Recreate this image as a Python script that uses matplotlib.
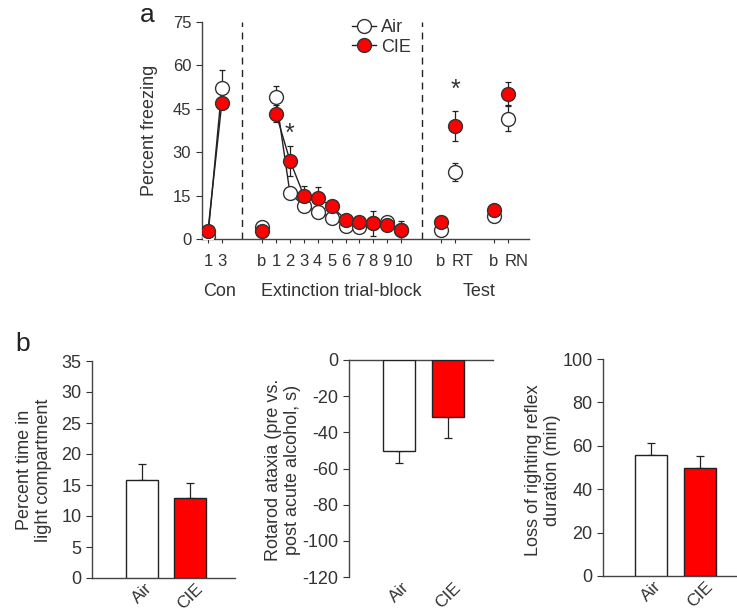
import matplotlib

matplotlib.use("Agg")
import matplotlib.pyplot as plt
from matplotlib.lines import Line2D
from matplotlib.transforms import ScaledTranslation

plt.rcParams["font.family"] = ["Liberation Sans", "DejaVu Sans"]
plt.rcParams["axes.unicode_minus"] = False

W, H = 737, 614

# ---- panel a: percent freezing ----
tick_labels = ["1", "3", "b", "1", "2", "3", "4", "5", "6", "7", "8", "9", "10",
               "b", "RT", "b", "RN"]
con_x = [0.0, 1.0]
ext_x = [3.9, 4.9, 5.9, 6.9, 7.9, 8.9, 9.9, 10.9, 11.9, 12.9, 13.9]
test_x = [16.8, 17.8, 20.6, 21.6]

air_con = [0.9, 52.3]
air_con_err = [0.5, 6.2]
cie_con = [2.9, 47.1]
cie_con_err = [1.0, 2.0]

air_ext = [4.0, 49.0, 15.8, 11.5, 9.5, 7.3, 4.6, 4.0, 5.4, 5.8, 3.1]
air_ext_err = [1.0, 4.0, 2.0, 1.5, 1.5, 1.5, 1.0, 1.0, 4.4, 1.5, 1.0]
cie_ext = [2.9, 43.3, 27.1, 15.0, 14.2, 11.3, 6.7, 6.0, 5.4, 4.8, 3.1]
cie_ext_err = [1.0, 3.0, 5.2, 3.2, 3.7, 1.5, 1.0, 1.0, 1.5, 1.0, 3.2]

air_test = [3.1, 23.1, 8.1, 41.5]
air_test_err = [1.0, 3.2, 1.0, 4.3]
cie_test = [5.8, 39.0, 10.0, 50.2]
cie_test_err = [1.0, 5.1, 1.0, 4.0]

# ---- panel b: bar charts ----
groups = ["Air", "CIE"]
light_time = [15.8, 12.9]
light_time_err = [2.6, 2.5]
rotarod = [-50.1, -31.3]
rotarod_err = [7.0, 12.0]
lorr = [55.8, 49.7]
lorr_err = [5.7, 5.4]

RED = "#ff0000"
EDGE = "#333333"
AXC = "#444444"
TXT = "#333333"


def px_rect(left, top, right, bottom):
    return [left / W, 1 - bottom / H, (right - left) / W, (bottom - top) / H]


def style_axes(ax, size):
    for s in ax.spines.values():
        s.set_color(AXC)
        s.set_linewidth(1.0)
    ax.tick_params(colors=TXT, length=4, width=0.8, labelsize=size)


fig = plt.figure(figsize=(W / 100, H / 100), dpi=100)

ax = fig.add_axes(px_rect(201.7, 22, 529, 239))
style_axes(ax, 12)
ax.spines["top"].set_visible(False)
ax.spines["right"].set_visible(False)
ax.set_xlim(-0.45, 23.1)
ax.set_ylim(0, 75)
ax.set_yticks([0, 15, 30, 45, 60, 75])
ax.set_xticks(con_x + ext_x + test_x)
ax.set_xticklabels(tick_labels)
ax.tick_params(axis="x", length=3, pad=8)
ax.set_ylabel("Percent freezing", fontsize=13, color=TXT, labelpad=11)

# nudge the wider labels so neighbours do not collide
for lab in ax.get_xticklabels():
    shift = {"RT": 7, "RN": 8, "10": 3}.get(lab.get_text(), 0)
    if lab.get_text() == "b":
        shift = -1
    if shift:
        lab.set_transform(lab.get_transform() + ScaledTranslation(shift / 100, 0, fig.dpi_scale_trans))

for xv in (2.45, 15.4):
    ax.axvline(xv, color="#222222", lw=1.0, ls=(0, (5, 4)), zorder=1)

mk = dict(marker="o", ms=10, mew=1.0, mec=EDGE, ls="none", zorder=4)
eb = dict(fmt="none", ecolor="#222222", elinewidth=0.9, capsize=2.5, capthick=0.9, zorder=2)

# connecting lines
ax.plot(con_x, air_con, color="#222222", lw=1.0, zorder=3)
ax.plot(con_x, cie_con, color="#222222", lw=1.0, zorder=3)
ax.plot(ext_x[1:], air_ext[1:], color="#222222", lw=1.0, zorder=3)
ax.plot(ext_x[1:], cie_ext[1:], color="#222222", lw=1.0, zorder=3)

for xs, ys, es in ((con_x, air_con, air_con_err), (ext_x, air_ext, air_ext_err),
                   (test_x, air_test, air_test_err)):
    ax.errorbar(xs, ys, yerr=es, **eb)
    ax.plot(xs, ys, mfc="white", **mk)
for xs, ys, es in ((con_x, cie_con, cie_con_err), (ext_x, cie_ext, cie_ext_err),
                   (test_x, cie_test, cie_test_err)):
    ax.errorbar(xs, ys, yerr=es, **eb)
    ax.plot(xs, ys, mfc=RED, **mk)
    ax.lines[-1].set_zorder(5)

ax.text(ext_x[2], 36.5, "*", fontsize=18, ha="center", va="center", color=TXT)
ax.text(test_x[1], 51.5, "*", fontsize=18, ha="center", va="center", color=TXT)

handles = [
    Line2D([], [], color="#222222", lw=1.0, marker="o", ms=10, mfc="white", mec=EDGE),
    Line2D([], [], color="#222222", lw=1.0, marker="o", ms=10, mfc=RED, mec=EDGE),
]
fig.legend(handles, ["Air", "CIE"], loc="upper left", bbox_to_anchor=(343 / W, 1 - 10 / H),
           frameon=False, fontsize=13, handlelength=1.3, handletextpad=0.3,
           labelspacing=0.15, borderpad=0, labelcolor=TXT)

fig.text(220 / W, 1 - 292 / H, "Con", fontsize=13, ha="center", va="center", color=TXT)
fig.text(341 / W, 1 - 292 / H, "Extinction trial-block", fontsize=13, ha="center",
         va="center", color=TXT)
fig.text(479 / W, 1 - 292 / H, "Test", fontsize=13, ha="center", va="center", color=TXT)
fig.text(147 / W, 1 - 15 / H, "a", fontsize=19, ha="center", va="center", color="#222222")
fig.text(23 / W, 1 - 344 / H, "b", fontsize=19, ha="center", va="center", color="#222222")

# ---- panel b ----
bar_x = [0, 1]
bar_kw = dict(width=0.66, edgecolor="#222222", linewidth=1.0, color=["white", RED], zorder=3)
err_kw = dict(fmt="none", ecolor="#222222", elinewidth=0.9, capsize=3, capthick=0.9, zorder=2)


def bar_panel(rect, vals, errs, ylim, yticks, xlim, label, label_x, negative=False):
    bx = fig.add_axes(px_rect(*rect))
    style_axes(bx, 13)
    bx.spines["right"].set_visible(False)
    if negative:
        bx.spines["bottom"].set_visible(False)
    else:
        bx.spines["top"].set_visible(False)
    bx.bar(bar_x, vals, **bar_kw)
    if negative:
        bx.errorbar(bar_x, vals, yerr=[errs, [0, 0]], **err_kw)
    else:
        bx.errorbar(bar_x, vals, yerr=[[0, 0], errs], **err_kw)
    bx.set_xlim(*xlim)
    bx.set_ylim(*ylim)
    bx.set_yticks(yticks)
    bx.set_xticks(bar_x)
    bx.set_xticklabels(groups, rotation=45, ha="center", va="top")
    bx.tick_params(axis="x", length=0, pad=2, labelsize=12.5)
    fig.text(label_x / W, 1 - 470 / H, label, rotation=90, fontsize=13, ha="center",
             va="center", color=TXT, linespacing=1.1)
    return bx


bar_panel((92, 361, 235, 578), light_time, light_time_err, (0, 35), range(0, 36, 5),
          (-1.03, 1.92), "Percent time in\nlight compartment", 34)
bar_panel((349, 360, 493, 577), rotarod, rotarod_err, (-120, 0), range(-120, 1, 20),
          (-1.02, 1.92), "Rotarod ataxia (pre vs.\npost acute alcohol, s)", 283, negative=True)
bar_panel((603, 359, 737, 576), lorr, lorr_err, (0, 100), range(0, 101, 20),
          (-0.98, 1.76), "Loss of righting reflex\nduration (min)", 543)

fig.savefig("out.png", dpi=100, facecolor="white")
